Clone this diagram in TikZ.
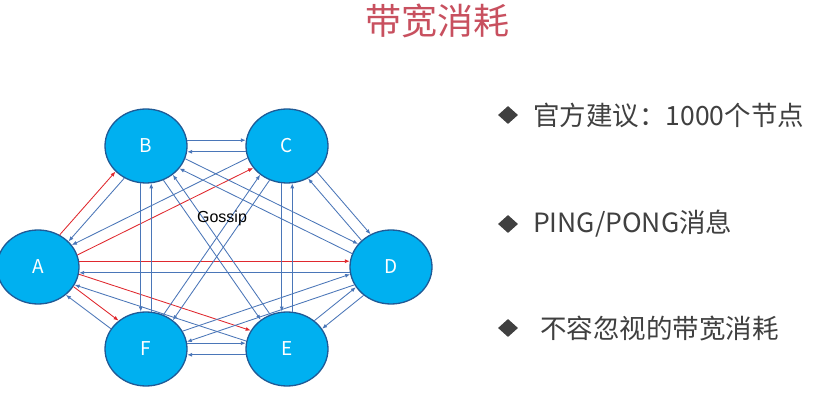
\documentclass[tikz,border=0pt]{standalone}
\usepackage{fontspec}
\setmainfont{Noto Sans CJK SC}
\newfontfamily\gossipfont{Liberation Sans}
\usetikzlibrary{shapes.geometric,arrows.meta}
\definecolor{nodefill}{HTML}{00B0F0}
\definecolor{nodeborder}{HTML}{1F5A96}
\definecolor{lineblue}{HTML}{4A76B8}
\definecolor{linered}{HTML}{E0282E}
\definecolor{titlered}{HTML}{C8505F}
\definecolor{textgray}{HTML}{404040}
\tikzset{
  peer/.style={ellipse, fill=nodefill, draw=nodeborder, line width=1.3pt,
    minimum width=82pt, minimum height=74pt, inner sep=0pt,
    text=white, font=\fontsize{19}{19}\selectfont},
  bluarr/.style={draw=lineblue, line width=0.85pt, -{Latex[length=5pt,width=4pt]}},
  redarr/.style={draw=linered, line width=0.85pt, -{Latex[length=5pt,width=4pt]}},
  bullettext/.style={anchor=west, text=textgray, inner sep=0pt,
    font=\fontsize{26.5}{26.5}\selectfont},
  bulletmark/.style={diamond, fill=textgray, inner sep=0pt,
    minimum width=20pt, minimum height=18pt},
}
\newcommand\pairlink[6]{%
  \pgfmathsetmacro\angXa{#3+(#4)*8}%
  \pgfmathsetmacro\angYa{#3+180-(#4)*8}%
  \pgfmathsetmacro\angYb{#3+180+(#4)*8}%
  \pgfmathsetmacro\angXb{#3-(#4)*8}%
  \draw[#5] (#1.\angXa) -- (#2.\angYa);
  \draw[#6] (#2.\angYb) -- (#1.\angXb);
}
\begin{document}
\begin{tikzpicture}[x=1pt,y=1pt]
\useasboundingbox (0,0) rectangle (837,412);
\fill[white] (0,0) rectangle (837,412);

\node[text=titlered, font=\fontsize{36}{36}\selectfont, inner sep=0pt] (title) at (437,391) {带宽消耗};

\node[peer] (A) at (38,145) {A};
\node[peer] (B) at (146,266) {B};
\node[peer] (C) at (287,266) {C};
\node[peer] (D) at (391,145) {D};
\node[peer] (E) at (287,63) {E};
\node[peer] (F) at (146,63) {F};

\pairlink{A}{B}{48.2}{1}{redarr}{bluarr}
\pairlink{A}{C}{25.9}{-1}{redarr}{bluarr}
\pairlink{A}{D}{0}{1}{redarr}{bluarr}
\pairlink{A}{E}{-18.2}{1}{redarr}{bluarr}
\pairlink{A}{F}{-37.2}{1}{redarr}{bluarr}
\pairlink{B}{C}{0}{1}{bluarr}{bluarr}
\pairlink{B}{D}{-26.3}{1}{bluarr}{bluarr}
\pairlink{B}{E}{-55.2}{-1}{bluarr}{bluarr}
\pairlink{B}{F}{-90}{-1}{bluarr}{bluarr}
\pairlink{C}{D}{-49.3}{1}{bluarr}{bluarr}
\pairlink{C}{E}{-90}{-1}{bluarr}{bluarr}
\pairlink{C}{F}{235.2}{1}{bluarr}{bluarr}
\pairlink{D}{E}{218.3}{1}{bluarr}{bluarr}
\pairlink{D}{F}{198.5}{1}{bluarr}{bluarr}
\pairlink{E}{F}{180}{1}{bluarr}{bluarr}

\node[font=\gossipfont\fontsize{16}{16}\selectfont, text=black, inner sep=0pt] (gossip) at (222,194) {Gossip};

\node[bulletmark] (m1) at (508,297) {};
\node[bulletmark] (m2) at (508,188) {};
\node[bulletmark] (m3) at (508,84) {};
\node[bullettext] (t1) at (533,297) {官方建议：1000个节点};
\node[bullettext] (t2) at (533,188) {PING/PONG消息};
\node[bullettext] (t3) at (540,84) {不容忽视的带宽消耗};
\end{tikzpicture}
\end{document}
